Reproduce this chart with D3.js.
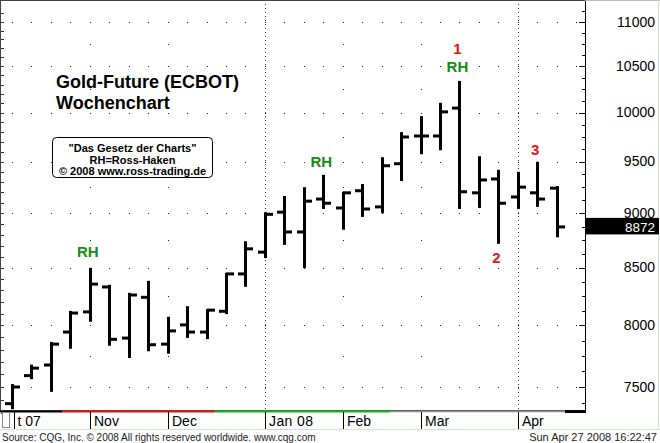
<!DOCTYPE html>
<html><head><meta charset="utf-8">
<script src="https://cdn.jsdelivr.net/npm/d3@7"></script>
<style>html,body{margin:0;padding:0;background:#fff;}svg{display:block;font-family:"Liberation Sans",Arial,sans-serif;}</style>
</head><body>
<script>
// ---- data ----
const weeks = ["2007-10-08","2007-10-15","2007-10-22","2007-10-29","2007-11-05","2007-11-12","2007-11-19","2007-11-26",
  "2007-12-03","2007-12-10","2007-12-17","2007-12-24","2007-12-31","2008-01-07","2008-01-14","2008-01-21","2008-01-28",
  "2008-02-04","2008-02-11","2008-02-18","2008-02-25","2008-03-03","2008-03-10","2008-03-17","2008-03-24","2008-03-31",
  "2008-04-07","2008-04-14","2008-04-21"];
const openV  = [7370,7590,7675,7945,8115,8330,7895,8240,7845,8005,7945,8120,8445,8640,9010,8825,9135,9050,9215,9060,9480,9760,9760,10050,9195,9330,9155,9195,9240];
const highV  = [7515,7670,7855,8115,8490,8340,8270,8375,8065,8155,8130,8445,8730,9000,9155,9240,9360,9195,9270,9535,9790,9955,10095,10330,9545,9410,9390,9490,9250];
const lowV   = [7335,7570,7470,7815,8040,7840,7740,7795,7775,7905,7895,8105,8340,8595,8715,8505,9050,8855,8975,9010,9320,9585,9625,9050,9060,8725,9050,9070,8785];
const closeV = [7500,7650,7845,8105,8355,7885,8260,7840,7955,7945,8130,8445,8670,8990,8825,9115,9095,9195,9040,9460,9750,9760,10010,9205,9320,9095,9250,9135,8872];
const yTicks = [7500,8000,8500,9000,9500,10000,10500,11000];
const lastPrice = 8872;
const monthLabels = [["2007-11","Nov"],["2007-12","Dec"],["2008-01","Jan 08"],["2008-02","Feb"],["2008-03","Mar"],["2008-04","Apr"]];
const quarterMonths = ["2008-01","2008-04"];
// annotations: bar index, text, colour, placement, offset
const notes = [[4,"RH","g","high",12],[16,"RH","g","high",9],[23,"RH","g","high",10],[23,"1","r","high",28],[25,"2","r","low",20],[27,"3","r","high",8]];
// trend band under the chart: [from bar index, to bar index, colour]
const bandSegs = [[-1,2.6,"#000"],[2.6,10.5,"#e01010"],[10.5,19.5,"#10b810"],[19.5,28.5,"#909090"],[28.5,30.5,"#000"]];

// ---- setup ----
const W=660,H=443, plotR=585, plotB=410;
const parse=d3.utcParse("%Y-%m-%d");
const dates=weeks.map(parse);
const x=d3.scaleUtc().domain([dates[0],dates[dates.length-1]]).range([12,556.7]);
const xi=i=>x(d3.utcDay.offset(dates[0],7*i));
const y=d3.scaleLog().domain([7500,11000]).range([387,22]);
const svg=d3.select("body").append("svg").attr("width",W).attr("height",H);
svg.append("rect").attr("width",W).attr("height",H).attr("fill","#fff");
svg.append("defs").append("clipPath").attr("id","pc").append("rect").attr("x",1).attr("y",1).attr("width",plotR-1).attr("height",plotB-1);
const plot=svg.append("g").attr("clip-path","url(#pc)");

// grid dots on major levels at each bar position
const gridIdx=d3.range(0,30);
yTicks.forEach(v=>{
  plot.selectAll(null).data(gridIdx).enter().append("rect")
    .attr("x",i=>Math.round(xi(i))).attr("y",Math.round(y(v))).attr("width",1).attr("height",1).attr("fill","#222");
});
const monthStart=m=>dates.find(d=>d3.utcFormat("%Y-%m")(d)===m);
monthLabels.forEach(([m])=>{
  const xm=Math.round(x(monthStart(m)))+0.5;
  if(quarterMonths.includes(m)){
    plot.append("line").attr("x1",xm).attr("x2",xm).attr("y1",0).attr("y2",plotB)
      .attr("stroke","#333").attr("stroke-dasharray","1,3");
  } else {
    d3.range(7750,11000,500).forEach(v=>{
      plot.append("rect").attr("x",xm-0.5).attr("y",Math.round(y(v))).attr("width",1).attr("height",1).attr("fill","#222");
    });
  }
});

// OHLC bars
const bars=plot.selectAll("g.bar").data(dates).enter().append("g");
bars.append("line").attr("x1",d=>Math.round(x(d))+0.5).attr("x2",d=>Math.round(x(d))+0.5)
  .attr("y1",(d,i)=>y(highV[i])-1).attr("y2",(d,i)=>y(lowV[i])+1).attr("stroke","#000").attr("stroke-width",3);
bars.append("line").attr("x1",d=>Math.round(x(d))-7).attr("x2",d=>Math.round(x(d))+1)
  .attr("y1",(d,i)=>y(openV[i])).attr("y2",(d,i)=>y(openV[i])).attr("stroke","#000").attr("stroke-width",3);
bars.append("line").attr("x1",d=>Math.round(x(d))).attr("x2",d=>Math.round(x(d))+8)
  .attr("y1",(d,i)=>y(closeV[i])).attr("y2",(d,i)=>y(closeV[i])).attr("stroke","#000").attr("stroke-width",3);

// annotations
notes.forEach(([i,t,c,pos,off])=>{
  const yy= pos==="high" ? y(highV[i])-off : y(lowV[i])+off;
  svg.append("text").attr("x",x(dates[i])-2).attr("y",yy).attr("text-anchor","middle")
    .attr("font-size",15).attr("font-weight","bold").attr("fill",c==="g"?"#148c14":"#e41414").text(t);
});

// titles
svg.append("text").attr("x",56).attr("y",88).attr("font-size",18).attr("font-weight","bold").text("Gold-Future (ECBOT)");
svg.append("text").attr("x",56).attr("y",108.5).attr("font-size",18).attr("font-weight","bold").text("Wochenchart");
svg.append("rect").attr("x",52.5).attr("y",137.5).attr("width",160).attr("height",40).attr("rx",4)
  .attr("fill","#fff").attr("stroke","#000");
[["\"Das Gesetz der Charts\"",151.5],["RH=Ross-Haken",163.5],["© 2008 www.ross-trading.de",175]].forEach(([t,yy])=>{
  svg.append("text").attr("x",132.5).attr("y",yy).attr("text-anchor","middle").attr("font-size",11).attr("font-weight","bold").text(t);
});

// frame
svg.append("line").attr("x1",0).attr("x2",plotR).attr("y1",0.5).attr("y2",0.5).attr("stroke","#444");
svg.append("line").attr("x1",0.5).attr("x2",0.5).attr("y1",0).attr("y2",plotB).attr("stroke","#444");
svg.append("line").attr("x1",plotR+0.5).attr("x2",plotR+0.5).attr("y1",0).attr("y2",plotB+2).attr("stroke","#000");
svg.append("line").attr("x1",plotR).attr("x2",W).attr("y1",0.5).attr("y2",0.5).attr("stroke","#bbb");
svg.append("line").attr("x1",W-1.5).attr("x2",W-1.5).attr("y1",0).attr("y2",430).attr("stroke","#cfe3cf");

// right axis ticks
d3.range(7375,11126,125).forEach(v=>{
  const yy=Math.round(y(v))+0.5;
  svg.append("line").attr("x1",plotR-(v%500===0?6:3)).attr("x2",plotR).attr("y1",yy).attr("y2",yy).attr("stroke","#000");
});
// left edge ticks
d3.range(7300,11200,100).forEach(v=>{
  const yy=Math.round(y(v))+0.5;
  svg.append("line").attr("x1",1).attr("x2",4).attr("y1",yy).attr("y2",yy).attr("stroke","#333");
});
// right axis labels
yTicks.forEach(v=>{
  svg.append("text").attr("x",655).attr("y",y(v)+4.5).attr("text-anchor","end").attr("font-size",14).text(v);
});
svg.append("rect").attr("x",plotR+1).attr("y",y(lastPrice)-9).attr("width",W-plotR-2).attr("height",16.5).attr("fill","#000");
svg.append("text").attr("x",655).attr("y",y(lastPrice)+5).attr("text-anchor","end").attr("font-size",13.5).attr("fill","#fff").text(lastPrice);

// bottom band
svg.append("line").attr("x1",0).attr("x2",plotR).attr("y1",plotB+0.5).attr("y2",plotB+0.5).attr("stroke","#555");
bandSegs.forEach(([a,b,c])=>{
  const x1=Math.max(0,xi(a)), x2=Math.min(plotR+1,xi(b));
  svg.append("line").attr("x1",x1).attr("x2",x2).attr("y1",411.5).attr("y2",411.5)
    .attr("stroke",c).attr("stroke-width",c==="#909090"?1.5:(c==="#000"&&a>20?3:2));
});
svg.append("rect").attr("x",2.5).attr("y",412.5).attr("width",7).attr("height",15).attr("fill","#fff").attr("stroke","#888");
svg.append("line").attr("x1",14.5).attr("x2",14.5).attr("y1",412).attr("y2",429).attr("stroke","#000");
svg.append("text").attr("x",17.5).attr("y",425.5).attr("font-size",14).text("t 07");
monthLabels.forEach(([m,t])=>{
  const xm=Math.round(x(monthStart(m)))+0.5;
  svg.append("line").attr("x1",xm).attr("x2",xm).attr("y1",412).attr("y2",429).attr("stroke","#000");
  svg.append("text").attr("x",xm+3.5).attr("y",425.5).attr("font-size",14).attr("letter-spacing",t.length>3?0.4:0).text(t);
});
svg.append("line").attr("x1",0).attr("x2",W).attr("y1",429.5).attr("y2",429.5).attr("stroke","#cfe3cf");

// footer
svg.append("text").attr("x",2).attr("y",440.5).attr("font-size",10).attr("fill","#222").text("Source: CQG, Inc. © 2008 All rights reserved worldwide. www.cqg.com");
svg.append("text").attr("x",657).attr("y",440.5).attr("text-anchor","end").attr("font-size",11).attr("fill","#222").text("Sun Apr 27 2008 16:22:47");
</script>
</body></html>
